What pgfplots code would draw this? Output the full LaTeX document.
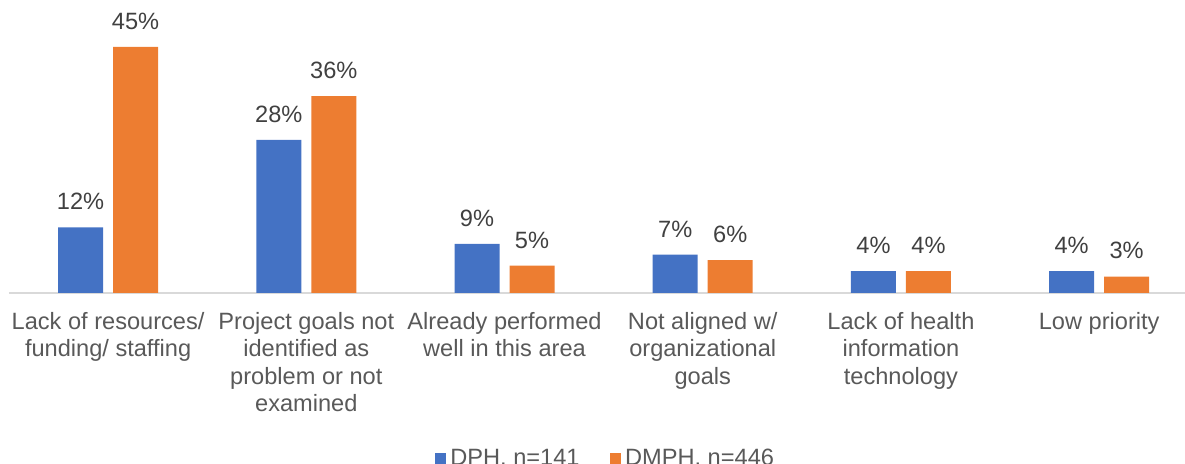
\documentclass[border=0pt]{standalone}
\usepackage{pgfplots}
\pgfplotsset{compat=1.18}
\usepackage{fontspec}
\setmainfont{Liberation Sans}
\definecolor{dph}{HTML}{4472C4}
\definecolor{dmph}{HTML}{ED7D31}
\definecolor{lbl}{HTML}{595959}
\definecolor{val}{HTML}{404040}
\definecolor{axln}{HTML}{D9D9D9}

\begin{document}
\begin{tikzpicture}
\begin{axis}[
    scale only axis,
    width=588pt, height=136.7pt,
    ybar=5pt, bar width=22.5pt,
    xmin=-0.5, xmax=5.433,
    ymin=0, ymax=50,
    axis y line=none,
    axis x line*=bottom,
    x axis line style={draw=axln, line width=1pt, -},
    xtick=data, major tick length=0pt,
    xticklabels={
        {Lack of resources/\\funding/ staffing},
        {Project goals not\\identified as\\problem or not\\examined},
        {Already performed\\well in this area},
        {Not aligned w/\\organizational\\goals},
        {Lack of health\\information\\technology},
        {Low priority}},
    xticklabel style={align=center, font=\fontsize{11.8}{13.7}\selectfont,
        text=lbl, inner sep=0pt, anchor=north, yshift=-9.5pt},
    /pgf/number format/assume math mode=true,
    nodes near coords={\pgfmathprintnumber{\pgfplotspointmeta}\%},
    nodes near coords style={font=\fontsize{11.8}{13.7}\selectfont,
        text=val, inner sep=0pt, anchor=south, yshift=8.5pt},
    legend style={draw=none, at={(0.508,-0.605)}, anchor=center,
        font=\fontsize{11.8}{13.7}\selectfont, text=lbl,
        legend columns=2,
        /tikz/every even column/.append style={column sep=13pt}},
    legend image code/.code={\fill[#1] (0pt,-2.9pt) rectangle (5.8pt,2.9pt);},
]
\addplot[draw=none, fill=dph] coordinates {(0,12) (1,28) (2,9) (3,7) (4,4) (5,4)};
\addplot[draw=none, fill=dmph] coordinates {(0,45) (1,36) (2,5) (3,6) (4,4) (5,3)};
\legend{DPH. n=141, DMPH. n=446}
\end{axis}
\pgfresetboundingbox
\path (-4.5pt,-85.5pt) rectangle (588pt,146.5pt);
\end{tikzpicture}
\end{document}
